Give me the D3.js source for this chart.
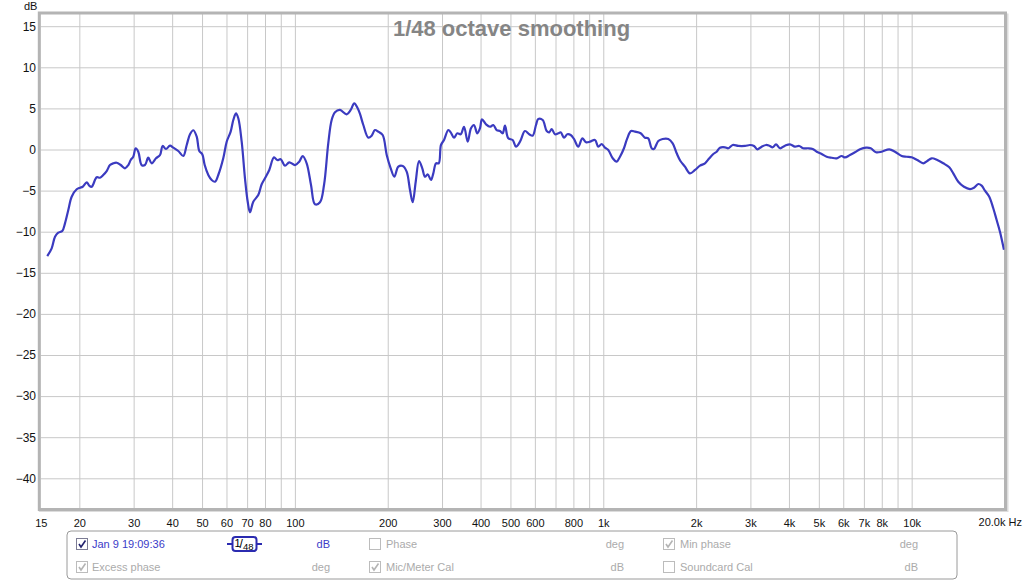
<!DOCTYPE html>
<html><head><meta charset="utf-8">
<script src="https://cdn.jsdelivr.net/npm/d3@7"></script>
<style>
html,body{margin:0;padding:0;background:#fff;}
svg{display:block;font-family:"Liberation Sans",Arial,sans-serif;}
</style></head>
<body>
<svg id="c" width="1024" height="581"></svg>
<script>
// ---------- data ----------
const freqHz = [15.74,16.27,16.68,17.09,17.61,17.97,18.42,18.89,19.61,20.1,20.51,21.13,21.54,21.93,22.77,23.33,23.91,24.53,25.14,25.77,26.43,27.24,28.12,28.83,29.35,29.92,30.46,31.06,31.85,32.65,33.46,34.33,35.45,36.53,37.26,38.19,39.36,40.34,41.87,43.46,44.59,45.7,46.85,48.05,48.98,50.09,51.0,
52.39,53.73,55.07,56.44,58.58,60.1,61.91,63.14,64.42,65.54,67.22,68.89,70.31,71.51,73.3,76.08,78.04,79.98,82.6,85.54,87.67,89.95,92.87,95.9,100.1,103.3,106.0,109.2,112.8,116.2,120.6,124.3,128.3,131.6,134.9,140.0,147.2,151.7,155.8,159.8,
162.6,166.7,173.0,177.4,181.8,186.4,192.6,198.5,204.5,210.1,216.5,223.7,230.4,236.2,241.0,246.5,252.7,258.9,264.2,269.5,276.3,281.1,286.8,292.7,297.7,304.5,314.4,320.1,328.1,336.2,344.9,353.5,363.4,372.4,380.8,390.3,398.3,404.3,416.5,429.2,439.9,451.2,462.4,471.9,480.1,492.0,508.4,521.1,537.0,
557.3,575.4,590.3,605.1,615.5,636.1,655.4,668.2,680.3,697.3,714.7,727.7,745.9,764.5,784.1,803.5,829.8,855.1,879.0,905.7,940.0,963.4,988.1,1013,1038,1073,1105,1133,1167,1196,1230,1267,1322,1365,1399,1435,1460,1508,1558,1625,1679,1730,1779,
1840,1910,1984,2059,2137,2207,2274,2332,2390,2481,2543,2628,2741,2881,2991,3082,3159,3264,3371,3455,3544,3631,3741,3883,4031,4184,4320,4451,4620,4775,4920,5107,5301,5503,5713,5929,6077,
6308,6548,6799,7110,7365,7661,7992,8460,8827,9281,9634,10000,10428,10905,11237,11613,12106,12662,13241,13643,14162,14778,15453,15922,16441,16866,17287,17849,18391,18863,19333,19920];
const splDb = [-12.96,-12.02,-10.61,-10.12,-9.91,-8.98,-7.36,-5.74,-4.84,-4.65,-4.53,-3.99,-4.40,-4.53,-3.38,-3.43,-3.10,-2.62,-1.89,-1.68,-1.61,-1.89,-2.29,-1.89,-1.28,-0.88,0.15,-0.27,-1.89,-1.89,-1.0,-1.68,-1.07,-0.67,0.43,0.06,0.46,0.22,-0.18,-0.79,0.55,1.85,2.34,1.56,-0.18,-0.58,-1.89,
-3.10,-3.71,-3.92,-3.10,-1.07,0.95,2.17,3.59,4.40,3.80,0.95,-3.50,-6.35,-7.64,-6.35,-5.54,-4.23,-3.50,-2.49,-0.95,-1.28,-1.19,-1.97,-1.56,-1.89,-1.48,-0.79,-1.68,-4.32,-6.67,-6.42,-4.32,0.75,3.59,4.53,4.81,4.28,4.81,5.62,5.01,
4.32,2.98,1.44,1.68,2.37,2.17,1.76,-0.67,-2.29,-3.31,-2.09,-2.01,-2.70,-4.93,-6.42,-3.92,-1.40,-2.29,-3.31,-3.02,-3.71,-2.90,-1.68,-1.68,0.55,1.16,2.37,2.09,1.44,1.97,1.85,2.77,0.95,2.58,2.98,1.97,2.58,3.67,3.07,2.77,2.98,2.37,2.25,1.97,2.90,1.36,1.16,0.34,0.95,
2.25,1.85,1.68,2.98,3.71,3.59,2.25,2.09,2.49,1.85,1.97,2.09,1.44,1.85,1.76,1.28,0.34,1.36,0.88,0.95,1.16,0.34,0.67,0.22,-0.06,-1.07,-1.48,-0.88,0.15,1.36,2.25,2.17,1.97,1.44,1.36,0.15,0.06,1.03,1.28,1.28,0.75,-0.46,-1.40,
-2.09,-2.90,-2.49,-1.97,-1.68,-1.07,-0.55,-0.27,0.22,0.27,0.15,0.55,0.43,0.43,0.55,0.43,0.02,0.34,0.55,0.46,0.27,0.63,0.15,0.46,0.63,0.34,0.43,0.15,0.15,0.06,-0.27,-0.55,-0.88,-1.0,-1.07,-0.79,-0.97,
-0.67,-0.34,0.02,0.22,0.15,-0.34,-0.27,0.02,-0.27,-0.79,-0.88,-0.95,-1.28,-1.68,-1.40,-1.07,-1.28,-1.68,-2.17,-2.90,-3.92,-4.53,-4.81,-4.65,-4.20,-4.40,-5.01,-5.74,-7.15,-8.58,-10.0,-12.2];
const xTickValues = [15,20,30,40,50,60,70,80,100,200,300,400,500,600,800,1000,2000,3000,4000,5000,6000,7000,8000,10000];
const xTickLabels = ["15","20","30","40","50","60","70","80","100","200","300","400","500","600","800","1k","2k","3k","4k","5k","6k","7k","8k","10k"];
const xGridValues = [20,30,40,50,60,70,80,90,100,200,300,400,500,600,700,800,900,1000,2000,3000,4000,5000,6000,7000,8000,9000,10000];
const yTickValues = [15,10,5,0,-5,-10,-15,-20,-25,-30,-35,-40];
const titleText = "1/48 octave smoothing";

// ---------- layout ----------
const svg = d3.select("#c");
const L = 40.8, R = 1004.5, T = 13.5, B = 509;
const x = d3.scaleLog().domain([15, 20000]).range([L, R]);
const y = d3.scaleLinear().domain([-40, 15]).range([478.3, 26.2]);

// frame shadow + background
svg.append("rect").attr("x", L-1).attr("y", T+1).attr("width", R-L+4).attr("height", B-T+1)
  .attr("fill", "none").attr("stroke", "#dcdcdc").attr("stroke-width", 2);
svg.append("rect").attr("x", L).attr("y", T).attr("width", R-L).attr("height", B-T).attr("fill", "#fff");

// grid
const gx = svg.append("g").attr("transform", `translate(0,${B})`)
  .call(d3.axisBottom(x).tickValues(xGridValues).tickSize(-(B-T)).tickFormat(""));
gx.select(".domain").remove();
gx.selectAll("line").attr("stroke", "#c8c8c8").attr("stroke-width", 1);

const gy = svg.append("g").attr("transform", `translate(${L},0)`)
  .call(d3.axisLeft(y).tickValues(yTickValues).tickSize(-(R-L)).tickFormat(""));
gy.select(".domain").remove();
gy.selectAll("line").attr("stroke", "#c8c8c8").attr("stroke-width", 1);

// frame border
svg.append("rect").attr("x", L-1.5).attr("y", T-0.5).attr("width", R-L+2.5).attr("height", B-T+1)
  .attr("fill", "none").attr("stroke", "#b4b4b4").attr("stroke-width", 3);

// axis labels
const ax = svg.append("g").attr("transform", `translate(0,${B+7})`)
  .call(d3.axisBottom(x).tickValues(xTickValues).tickSize(0).tickFormat((d,i)=>xTickLabels[i]));
ax.select(".domain").remove();
ax.selectAll("text").attr("font-size", 11).attr("font-family", "Liberation Sans, Arial").attr("fill", "#111");
svg.append("text").attr("x", 1022).attr("y", 526).attr("text-anchor", "end")
  .attr("font-size", 11).attr("fill", "#111").text("20.0k Hz");

const ay = svg.append("g").attr("transform", `translate(36,0)`)
  .call(d3.axisLeft(y).tickValues(yTickValues).tickSize(0).tickPadding(0));
ay.select(".domain").remove();
ay.selectAll("text").attr("font-size", 12).attr("font-family", "Liberation Sans, Arial").attr("fill", "#111");
svg.append("text").attr("x", 24).attr("y", 10).attr("font-size", 11).attr("fill", "#111").text("dB");

// title
svg.append("text").attr("x", 511.5).attr("y", 36).attr("text-anchor", "middle")
  .attr("font-size", 22).attr("font-weight", "bold").attr("fill", "#858585").text(titleText);

// curve
const pts = freqHz.map((f,i)=>[f, splDb[i]]);
svg.append("defs").append("clipPath").attr("id","pc").append("rect")
  .attr("x", L).attr("y", T).attr("width", R-L).attr("height", B-T);
svg.append("path").datum(pts).attr("clip-path","url(#pc)")
  .attr("d", d3.line().x(d=>x(d[0])).y(d=>y(d[1])).curve(d3.curveCatmullRom.alpha(0.5)))
  .attr("fill", "none").attr("stroke", "#3b3bc0").attr("stroke-width", 2.2)
  .attr("stroke-linejoin", "round");

// legend
const lg = svg.append("g");
lg.append("rect").attr("x", 67).attr("y", 531).attr("width", 890).attr("height", 48).attr("rx", 4)
  .attr("fill", "#fff").attr("stroke", "#9a9a9a").attr("stroke-width", 1);
function checkbox(cx, cy, checked, active){
  lg.append("rect").attr("x", cx+0.5).attr("y", cy+0.5).attr("width", 11).attr("height", 11)
    .attr("fill", "#fff").attr("stroke", active ? "#7c7c94" : "#bcbcbc");
  if (checked) lg.append("path").attr("d", `M${cx+3},${cy+6} L${cx+5},${cy+9} L${cx+9.5},${cy+2.5}`)
    .attr("fill","none").attr("stroke", active ? "#23236e" : "#b4b4b4").attr("stroke-width", 1.6);
}
function ltext(tx, ty, s, col, anchor){
  lg.append("text").attr("x", tx).attr("y", ty).attr("font-size", 11).attr("fill", col)
    .attr("text-anchor", anchor||"start").text(s);
}
const grey = "#ababab", blue = "#3b3bc8";
checkbox(76, 538, true, true); ltext(92, 548, "Jan 9 19:09:36", blue);
ltext(330, 548, "dB", blue, "end");
checkbox(369, 538, false, false); ltext(386, 548, "Phase", grey);
ltext(624, 548, "deg", grey, "end");
checkbox(663, 538, true, false); ltext(680, 548, "Min phase", grey);
ltext(918, 548, "deg", grey, "end");
checkbox(76, 561, true, false); ltext(92, 571, "Excess phase", grey);
ltext(330, 571, "deg", grey, "end");
checkbox(369, 561, true, false); ltext(386, 571, "Mic/Meter Cal", grey);
ltext(624, 571, "dB", grey, "end");
checkbox(663, 561, false, false); ltext(680, 571, "Soundcard Cal", grey);
ltext(918, 571, "dB", grey, "end");

// smoothing icon
lg.append("line").attr("x1", 227).attr("x2", 262).attr("y1", 544).attr("y2", 544)
  .attr("stroke", "#2b2bb0").attr("stroke-width", 2);
lg.append("rect").attr("x", 232.5).attr("y", 537).attr("width", 24).attr("height", 14).attr("rx", 3)
  .attr("fill", "#fff").attr("stroke", "#2b2bb0").attr("stroke-width", 2);
lg.append("text").attr("x", 234.5).attr("y", 546.5).attr("font-size", 11).attr("fill", "#000").text("1");
lg.append("text").attr("x", 239.5).attr("y", 548).attr("font-size", 12).attr("fill", "#000").text("/");
lg.append("text").attr("x", 243).attr("y", 550).attr("font-size", 9.5).attr("fill", "#000").text("48");
</script>
</body></html>
